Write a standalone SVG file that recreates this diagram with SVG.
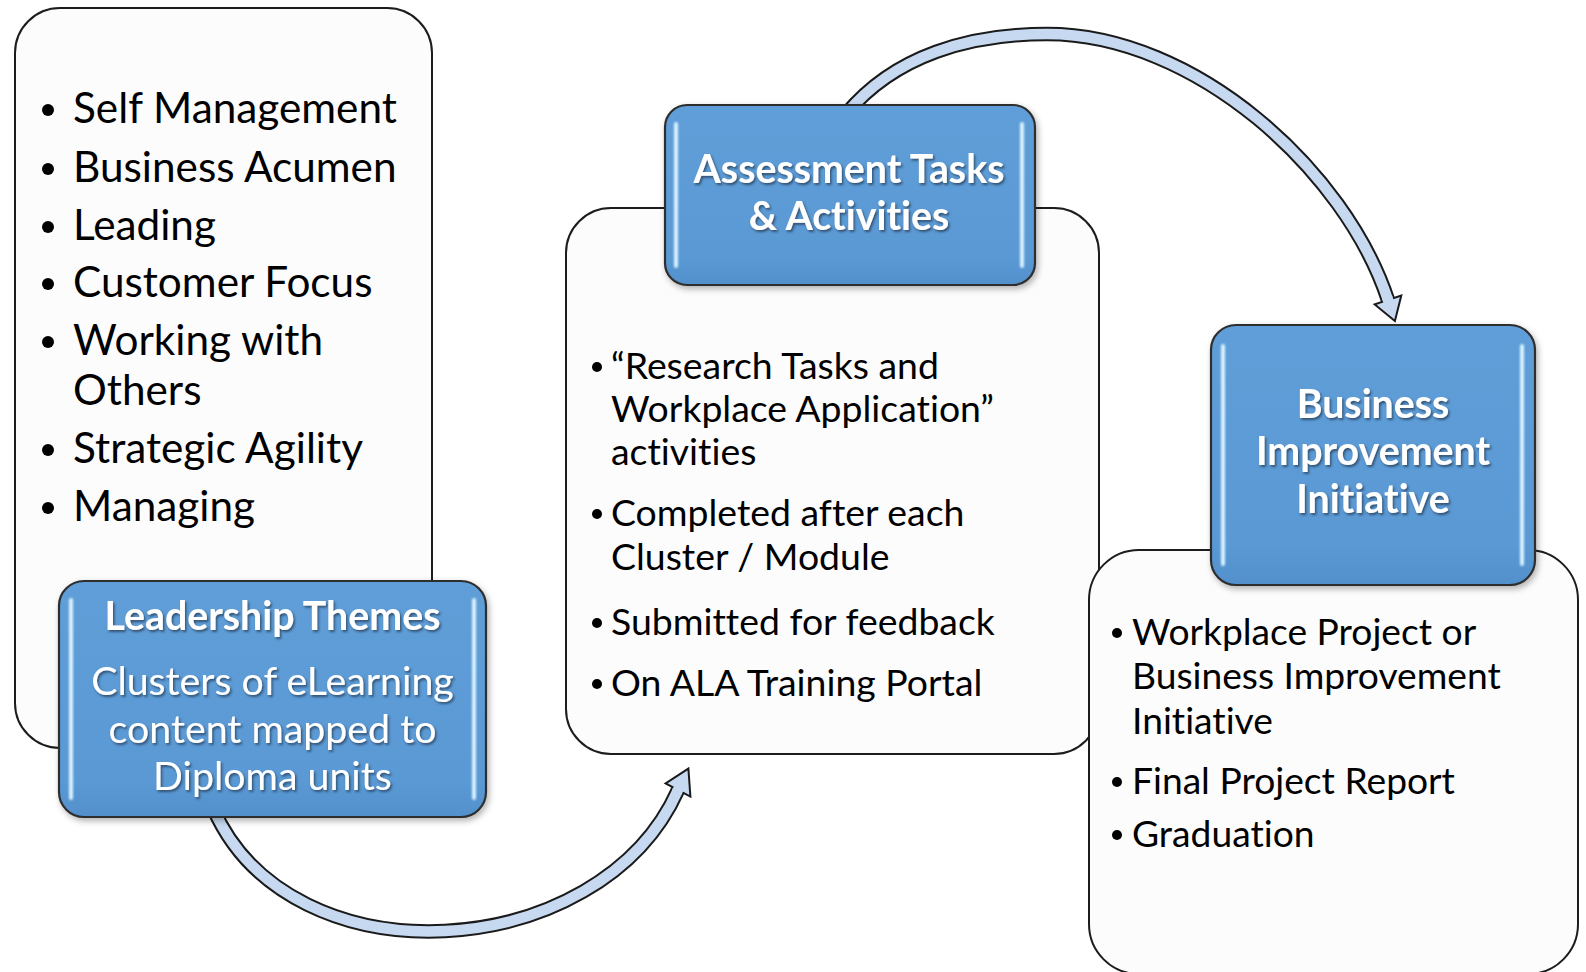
<svg xmlns="http://www.w3.org/2000/svg" width="1586" height="972" viewBox="0 0 1586 972">
<defs>
<linearGradient id="blueFill" x1="0" y1="0" x2="0" y2="1">
<stop offset="0" stop-color="#5f9ed8"/>
<stop offset="0.85" stop-color="#5a99d4"/>
<stop offset="1" stop-color="#5290cc"/>
</linearGradient>
<filter id="boxShadow" x="-10%" y="-10%" width="120%" height="125%">
<feDropShadow dx="2" dy="3" stdDeviation="3" flood-color="#000" flood-opacity="0.3"/>
</filter>
<filter id="txtShadow" x="-10%" y="-20%" width="120%" height="150%">
<feDropShadow dx="1.5" dy="2" stdDeviation="1.1" flood-color="#1a2a40" flood-opacity="0.65"/>
</filter>
<filter id="glow" x="-200%" y="-5%" width="500%" height="110%">
<feGaussianBlur stdDeviation="1"/>
</filter>
<style>
text{font-variant-ligatures:none;font-feature-settings:"liga" 0,"clig" 0}
.wbox{fill:#fcfcfc;stroke:#1c1c1c;stroke-width:2}
.bbox{fill:url(#blueFill);stroke:#2e2e2e;stroke-width:2.2}
.hl{fill:#d9f3ff;filter:url(#glow)}
.lst{font-family:Lato,"Liberation Sans",sans-serif;fill:#000}
.l1{font-size:42.3px}
.l2{font-size:37.4px}
.l3{font-size:37.2px}
.wt{font-family:Lato,"Liberation Sans",sans-serif;fill:#fff;text-anchor:middle;filter:url(#txtShadow)}
.bold{font-weight:bold;font-size:39.3px}
.reg{font-size:39.3px}
.shaftDark{fill:none;stroke:#1a1a1a;stroke-width:14.5}
.shaftLight{fill:none;stroke:#c6d9f1;stroke-width:10.5}
.head{fill:#c6d9f1;stroke:#1a1a1a;stroke-width:2;stroke-linejoin:miter}
.dot{fill:#000}
</style>
</defs>
<rect width="1586" height="972" fill="#fff"/>

<g id="connectors">
<g id="arrow-themes-to-assessment">
<path class="shaftDark" d="M 213 808 C 290 985, 600 965, 678 790"/>
<path class="shaftLight" d="M 213 808 C 290 985, 600 965, 678 790"/>
<polygon class="head" points="690.4,796.6 688.4,768.6 665.6,783.4"/>
<line x1="676.6" y1="792.6" x2="680.4" y2="785.6" stroke="#c6d9f1" stroke-width="10.5"/>
</g>
<g id="arrow-assessment-to-business">
<path class="shaftDark" d="M 846 114 C 895 55, 970 34, 1047 34 C 1195 34, 1345 170, 1388 300"/>
<path class="shaftLight" d="M 846 114 C 895 55, 970 34, 1047 34 C 1195 34, 1345 170, 1388 300"/>
<polygon class="head" points="1401.3,295.6 1394.9,320.9 1374.7,304.4"/>
<line x1="1387" y1="297" x2="1389.3" y2="303.8" stroke="#c6d9f1" stroke-width="10.5"/>
</g>
</g>

<g id="node-leadership">
<rect class="wbox" x="15" y="8" width="417" height="740" rx="45" ry="45"/>
<circle class="dot" cx="48" cy="110" r="6"/>
<circle class="dot" cx="48" cy="169" r="6"/>
<circle class="dot" cx="48" cy="227" r="6"/>
<circle class="dot" cx="48" cy="284" r="6"/>
<circle class="dot" cx="48" cy="342" r="6"/>
<circle class="dot" cx="48" cy="450" r="6"/>
<circle class="dot" cx="48" cy="508" r="6"/>
<text class="lst l1" x="73" y="123">Self Management</text>
<text class="lst l1" x="73" y="182">Business Acumen</text>
<text class="lst l1" x="73" y="240">Leading</text>
<text class="lst l1" x="73" y="297">Customer Focus</text>
<text class="lst l1" x="73" y="355">Working with</text>
<text class="lst l1" x="73" y="405">Others</text>
<text class="lst l1" x="73" y="463">Strategic Agility</text>
<text class="lst l1" x="73" y="521">Managing</text>
<g filter="url(#boxShadow)"><rect class="bbox" x="59" y="581" width="427" height="236" rx="25" ry="25"/></g>
<rect class="hl" x="69" y="598" width="4" height="202" rx="2"/>
<rect class="hl" x="472" y="598" width="4" height="202" rx="2"/>
<text class="wt bold" x="272.5" y="630">Leadership Themes</text>
<text class="wt reg" x="272.5" y="695">Clusters of eLearning</text>
<text class="wt reg" x="272.5" y="743">content mapped to</text>
<text class="wt reg" x="272.5" y="790">Diploma units</text>
</g>

<g id="node-assessment">
<rect class="wbox" x="566" y="208" width="533" height="546" rx="45" ry="45"/>
<circle class="dot" cx="597" cy="367" r="5"/>
<circle class="dot" cx="597" cy="514" r="5"/>
<circle class="dot" cx="597" cy="623" r="5"/>
<circle class="dot" cx="597" cy="684" r="5"/>
<text class="lst l2" x="611" y="379">“Research Tasks and</text>
<text class="lst l2" x="611" y="422">Workplace Application”</text>
<text class="lst l2" x="611" y="465">activities</text>
<text class="lst l2" x="611" y="526">Completed after each</text>
<text class="lst l2" x="611" y="570">Cluster / Module</text>
<text class="lst l2" x="611" y="635">Submitted for feedback</text>
<text class="lst l2" x="611" y="696">On ALA Training Portal</text>
<g filter="url(#boxShadow)"><rect class="bbox" x="665" y="105" width="370" height="180" rx="22" ry="22"/></g>
<rect class="hl" x="674" y="122" width="4" height="146" rx="2"/>
<rect class="hl" x="1020" y="122" width="4" height="146" rx="2"/>
<text class="wt bold" x="849" y="183">Assessment Tasks</text>
<text class="wt bold" x="849" y="230">&amp; Activities</text>
</g>

<g id="node-business">
<rect class="wbox" x="1089" y="550" width="489" height="424" rx="50" ry="50"/>
<circle class="dot" cx="1117" cy="633" r="5"/>
<circle class="dot" cx="1117" cy="782" r="5"/>
<circle class="dot" cx="1117" cy="835" r="5"/>
<text class="lst l3" x="1132" y="645">Workplace Project or</text>
<text class="lst l3" x="1132" y="689">Business Improvement</text>
<text class="lst l3" x="1132" y="734">Initiative</text>
<text class="lst l3" x="1132" y="794">Final Project Report</text>
<text class="lst l3" x="1132" y="847">Graduation</text>
<g filter="url(#boxShadow)"><rect class="bbox" x="1211" y="325" width="324" height="260" rx="25" ry="25"/></g>
<rect class="hl" x="1221" y="344" width="4" height="222" rx="2"/>
<rect class="hl" x="1520" y="344" width="4" height="222" rx="2"/>
<text class="wt bold" x="1373" y="418">Business</text>
<text class="wt bold" x="1373" y="465">Improvement</text>
<text class="wt bold" x="1373" y="513">Initiative</text>
</g>
</svg>
